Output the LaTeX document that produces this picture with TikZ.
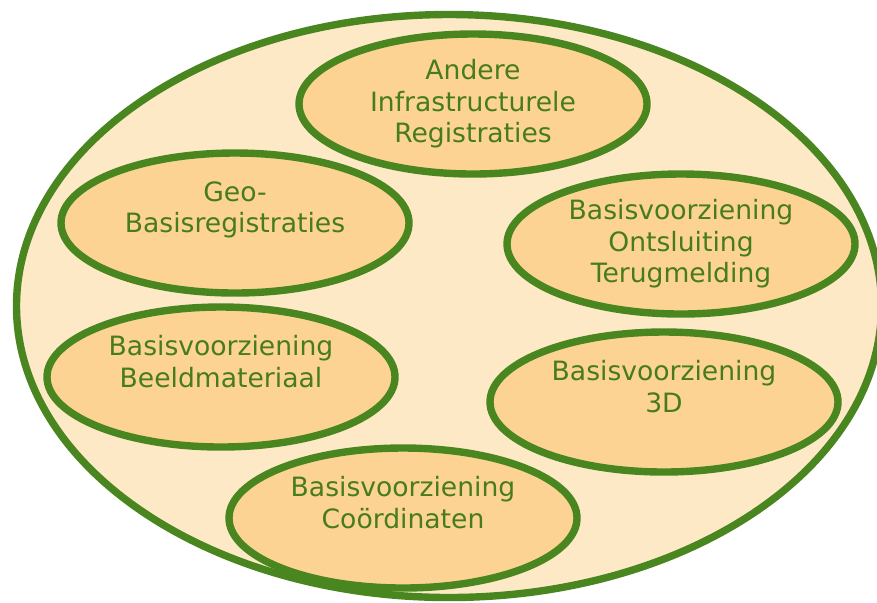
\documentclass[tikz,border=0pt]{standalone}
\usepackage{fontspec}
\newfontfamily\labelfont{DejaVu Sans}
\usepackage{tikz}
\usetikzlibrary{shapes.geometric}
\usepackage{xcolor}
\definecolor{leafgreen}{RGB}{74,134,32}
\definecolor{textgreen}{RGB}{70,124,30}
\definecolor{paleorange}{RGB}{254,233,199}
\definecolor{softorange}{RGB}{253,211,147}

\begin{document}
\begin{tikzpicture}[
    x=0.5pt, y=-0.5pt,
    outer/.style={
        ellipse, draw=leafgreen, line width=3.7pt, fill=paleorange,
        minimum width=865*0.5pt, minimum height=583*0.5pt, inner sep=0pt
    },
    part/.style={
        ellipse, draw=leafgreen, line width=3.7pt, fill=softorange,
        minimum width=174pt, minimum height=70pt, inner sep=0pt,
        align=center, text=textgreen,
        font=\labelfont\fontsize{13.3}{15.75}\selectfont
    }
]

% Canvas
\useasboundingbox (0,0) rectangle (877,602);

% Enclosing ellipse
\node[outer] (frame) at (449, 306) {};

% Components
\node[part] (andere) at (473, 104) {Andere\\Infrastructurele\\Registraties};
\node[part] (geo)    at (235, 223) {Geo-\\Basisregistraties\\~};
\node[part] (otm)    at (681, 244) {Basisvoorziening\\Ontsluiting\\Terugmelding};
\node[part] (beeld)  at (221, 377) {Basisvoorziening\\Beeldmateriaal\\~};
\node[part] (drie)   at (664, 402) {Basisvoorziening\\3D\\~};
\node[part] (coord)  at (403, 518) {Basisvoorziening\\Co\"ordinaten\\~};

\end{tikzpicture}
\end{document}
